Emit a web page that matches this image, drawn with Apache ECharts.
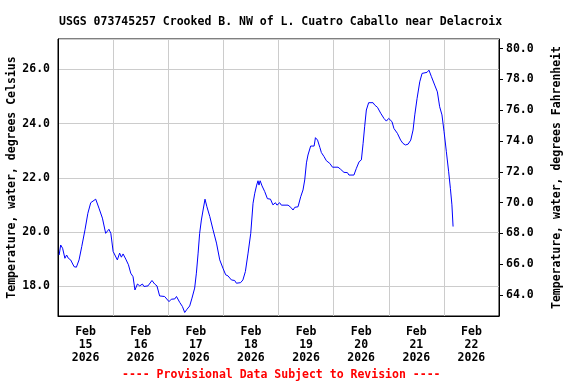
<!DOCTYPE html>
<html>
<head>
<meta charset="utf-8">
<script src="https://cdn.jsdelivr.net/npm/echarts@6/dist/echarts.min.js"></script>
<style>html,body{margin:0;padding:0;background:#fff;}#c{width:576px;height:384px;}</style>
</head>
<body>
<div id="c"></div>
<script>
const titleText = 'USGS 073745257 Crooked B. NW of L. Cuatro Caballo near Delacroix';
const noteText = '---- Provisional Data Subject to Revision ----';
const leftName = 'Temperature, water, degrees Celsius';
const rightName = 'Temperature, water, degrees Fahrenheit';
const dayLabels = ['Feb\n15\n2026','Feb\n16\n2026','Feb\n17\n2026','Feb\n18\n2026','Feb\n19\n2026','Feb\n20\n2026','Feb\n21\n2026','Feb\n22\n2026'];
const times = [
 '2026-02-15T00:30','2026-02-15T01:10','2026-02-15T02:00','2026-02-15T02:40','2026-02-15T03:00','2026-02-15T03:45','2026-02-15T04:30','2026-02-15T05:30','2026-02-15T07:00','2026-02-15T08:00','2026-02-15T09:10','2026-02-15T10:20','2026-02-15T11:45','2026-02-15T13:00','2026-02-15T14:15','2026-02-15T15:00','2026-02-15T16:25','2026-02-15T17:50','2026-02-15T19:20','2026-02-15T20:45','2026-02-15T22:10','2026-02-15T23:00',
 '2026-02-16T00:00','2026-02-16T00:50','2026-02-16T01:50','2026-02-16T02:50','2026-02-16T03:35','2026-02-16T04:20','2026-02-16T05:30','2026-02-16T06:40','2026-02-16T07:40','2026-02-16T08:40','2026-02-16T09:30','2026-02-16T10:35','2026-02-16T11:35','2026-02-16T12:45','2026-02-16T13:25','2026-02-16T15:10','2026-02-16T16:55','2026-02-16T18:05','2026-02-16T19:05','2026-02-16T20:15','2026-02-16T22:25',
 '2026-02-17T00:20','2026-02-17T01:20','2026-02-17T02:50','2026-02-17T03:35','2026-02-17T05:00','2026-02-17T06:10','2026-02-17T07:10','2026-02-17T08:10','2026-02-17T09:20','2026-02-17T10:20','2026-02-17T11:30','2026-02-17T12:15','2026-02-17T13:00','2026-02-17T13:40','2026-02-17T14:25','2026-02-17T15:10','2026-02-17T16:00','2026-02-17T16:50','2026-02-17T18:05','2026-02-17T19:30','2026-02-17T21:00','2026-02-17T22:25','2026-02-17T23:50',
 '2026-02-18T01:00','2026-02-18T02:00','2026-02-18T02:45','2026-02-18T03:30','2026-02-18T04:55','2026-02-18T05:40','2026-02-18T07:30','2026-02-18T08:30','2026-02-18T09:35','2026-02-18T10:45','2026-02-18T11:55','2026-02-18T12:55','2026-02-18T13:40','2026-02-18T14:30','2026-02-18T15:05','2026-02-18T15:30','2026-02-18T16:00','2026-02-18T16:50','2026-02-18T18:00','2026-02-18T19:10','2026-02-18T20:30','2026-02-18T21:35','2026-02-18T22:40','2026-02-18T23:20',
 '2026-02-19T00:30','2026-02-19T01:15','2026-02-19T04:10','2026-02-19T05:20','2026-02-19T06:20','2026-02-19T07:05','2026-02-19T08:30','2026-02-19T09:40','2026-02-19T10:40','2026-02-19T11:25','2026-02-19T12:10','2026-02-19T12:50','2026-02-19T14:00','2026-02-19T15:30','2026-02-19T16:05','2026-02-19T17:00','2026-02-19T18:00','2026-02-19T18:40','2026-02-19T19:50','2026-02-19T20:50','2026-02-19T22:20','2026-02-19T23:30',
 '2026-02-20T01:55','2026-02-20T03:05','2026-02-20T04:30','2026-02-20T06:00','2026-02-20T06:40','2026-02-20T08:50','2026-02-20T09:55','2026-02-20T11:05','2026-02-20T12:05','2026-02-20T12:50','2026-02-20T13:30','2026-02-20T14:15','2026-02-20T15:15','2026-02-20T17:10','2026-02-20T17:55','2026-02-20T19:05','2026-02-20T20:30','2026-02-20T21:55','2026-02-20T22:58','2026-02-20T23:58',
 '2026-02-21T00:25','2026-02-21T01:25','2026-02-21T02:15','2026-02-21T03:45','2026-02-21T05:10','2026-02-21T06:10','2026-02-21T07:15','2026-02-21T08:25','2026-02-21T09:35','2026-02-21T10:35','2026-02-21T11:20','2026-02-21T12:20','2026-02-21T13:30','2026-02-21T14:30','2026-02-21T15:20','2026-02-21T16:40','2026-02-21T17:30','2026-02-21T18:35','2026-02-21T20:00','2026-02-21T21:10','2026-02-21T22:10','2026-02-21T23:10',
 '2026-02-22T00:05','2026-02-22T01:05','2026-02-22T02:05','2026-02-22T02:50','2026-02-22T03:30','2026-02-22T04:00'
];
const tempC = [
 19.15,19.52,19.40,19.40,19.03,19.15,19.03,18.97,18.72,18.70,18.97,19.46,20.08,20.69,21.08,21.03,21.21,20.88,20.51,19.95,20.10,19.95,
 19.28,19.22,18.97,19.22,19.07,19.19,19.00,18.79,18.48,18.35,17.86,18.08,18.01,18.08,17.99,18.01,18.21,18.08,18.01,17.64,17.62,
 17.43,17.52,17.53,17.62,17.40,17.25,17.03,17.15,17.27,17.56,17.93,18.48,19.22,19.95,20.44,20.81,21.21,20.93,20.57,20.08,19.59,18.97,18.66,
 18.42,18.38,18.35,18.23,18.21,18.11,18.13,18.23,18.54,19.22,19.95,21.06,21.43,21.73,21.89,21.73,21.89,21.70,21.49,21.23,21.21,21.00,21.08,20.99,
 21.08,20.99,20.99,20.91,20.81,20.91,20.93,21.30,21.55,21.92,22.55,22.84,23.17,23.17,23.48,23.39,23.12,22.93,22.78,22.63,22.53,22.39,
 22.39,22.31,22.20,22.19,22.10,22.10,22.35,22.59,22.66,23.27,23.88,24.50,24.77,24.77,24.68,24.60,24.38,24.19,24.09,24.19,
 24.22,24.07,23.82,23.64,23.39,23.27,23.21,23.24,23.39,23.76,24.32,24.93,25.54,25.85,25.89,25.89,25.97,25.73,25.42,25.17,24.62,24.32,
 23.70,22.96,22.22,21.61,21.00,20.20
];

const FONT = '"DejaVu Sans Mono", monospace';
const txt = {fontFamily: FONT, fontWeight: 'bold', fontSize: 11.5, color: '#000'};
const chart = echarts.init(document.getElementById('c'), null, {renderer: 'canvas'});
chart.setOption({
  animation: false,
  backgroundColor: '#fff',
  title: [
    {text: titleText, left: 54, top: 11, textStyle: Object.assign({}, txt)},
    {text: noteText, left: 117, top: 364, textStyle: Object.assign({}, txt, {color: '#ff0000'})}
  ],
  grid: {left: 58, right: 77, top: 39, bottom: 68, show: true, borderColor: '#000', borderWidth: 1,
         backgroundColor: 'transparent', containLabel: false, outerBoundsMode: 'none'},
  xAxis: [
    {type: 'time', min: '2026-02-15T00:00', max: '2026-02-23T00:00', minInterval: 86400000, maxInterval: 86400000,
     axisLine: {show: true, lineStyle: {color: '#000', width: 1}}, axisTick: {show: false}, axisLabel: {show: false},
     splitLine: {show: true, lineStyle: {color: '#cccccc', width: 1}}},
    {type: 'category', data: dayLabels, boundaryGap: true, position: 'bottom', gridIndex: 0,
     axisLine: {show: false}, axisTick: {show: false}, splitLine: {show: false},
     axisLabel: Object.assign({}, txt, {margin: 10, lineHeight: 13, interval: 0})}
  ],
  yAxis: [
    {type: 'value', min: 16.9, max: 27.12, splitNumber: 6, position: 'left',
     name: leftName, nameLocation: 'middle', nameGap: 40, nameRotate: 90, nameMoveOverlap: false,
     nameTextStyle: Object.assign({}, txt),
     axisLine: {show: true, lineStyle: {color: '#000'}}, axisTick: {show: false},
     axisLabel: Object.assign({}, txt, {margin: 8, showMinLabel: false, showMaxLabel: false, formatter: v => v.toFixed(1)}),
     splitLine: {show: true, lineStyle: {color: '#cccccc', width: 1}}},
    {type: 'value', min: 62.63, max: 80.63, splitNumber: 10, position: 'right',
     name: rightName, nameLocation: 'middle', nameGap: 52, nameRotate: 90, nameMoveOverlap: false,
     nameTextStyle: Object.assign({}, txt),
     axisLine: {show: true, lineStyle: {color: '#000'}},
     axisTick: {show: true, inside: false, length: 4, lineStyle: {color: '#000'}},
     axisLabel: Object.assign({}, txt, {margin: 7, showMinLabel: false, showMaxLabel: false, formatter: v => v.toFixed(1)}),
     splitLine: {show: false}}
  ],
  series: [{
    type: 'line', xAxisIndex: 0, yAxisIndex: 0, showSymbol: false, symbol: 'none',
    lineStyle: {color: '#0000ff', width: 1}, itemStyle: {color: '#0000ff'},
    data: times.map((t, i) => [t, tempC[i]])
  }]
});
</script>
</body>
</html>
